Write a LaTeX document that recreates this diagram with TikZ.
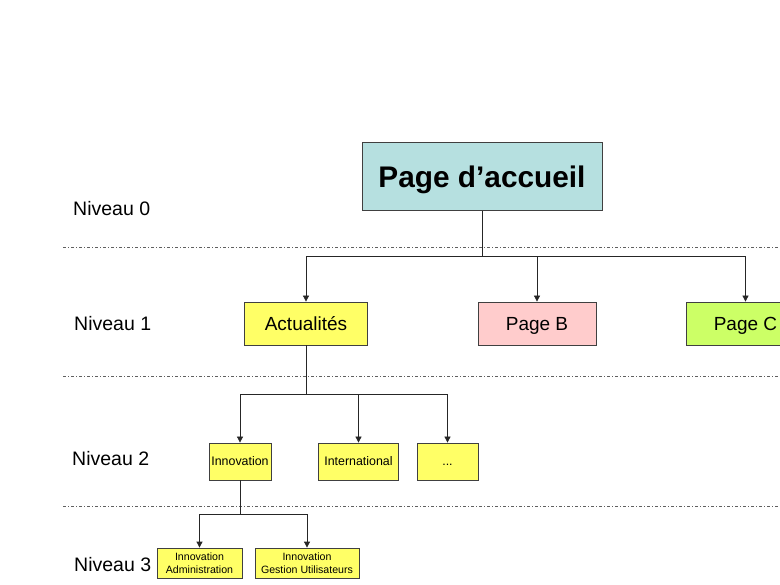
\documentclass[tikz,border=0pt]{standalone}
\usepackage{fontspec}
\setmainfont{Liberation Sans}
\usetikzlibrary{arrows.meta}
\definecolor{teal0}{HTML}{B6E0E0}
\definecolor{yel}{HTML}{FFFF66}
\definecolor{pinkb}{HTML}{FFCCCC}
\definecolor{greenc}{HTML}{CCFF66}
\definecolor{bord}{HTML}{404040}
\definecolor{sep}{HTML}{606060}
\tikzset{
  box/.style={draw=bord, line width=0.8pt, inner sep=0pt, anchor=center},
  lvlone/.style={box, text height=13.6pt, text depth=0pt, minimum width=123pt, minimum height=43pt, font=\fontsize{19}{22}\selectfont},
  lvltwo/.style={box, text height=8.9pt, text depth=0pt, fill=yel, minimum height=37pt, font=\fontsize{12.4}{14}\selectfont},
  lvlthree/.style={box, fill=yel, minimum height=30pt, align=center, font=\fontsize{10.6}{12.5}\selectfont},
  lvllabel/.style={font=\fontsize{19.5}{22}\selectfont, anchor=west, inner sep=0pt},
  conn/.style={draw=black!85, line width=0.8pt},
  arr/.style={conn, -{Triangle[length=6pt,width=6pt]}},
  sepline/.style={draw=sep, line width=0.7pt, dash pattern=on 3pt off 2pt on 1pt off 2pt}
}
\begin{document}
\begin{tikzpicture}[x=1pt,y=-1pt]
\useasboundingbox (0,0) rectangle (780,585);
\clip (0,0) rectangle (780,585);
\fill[white] (0,0) rectangle (780,585);

% separators
\draw[sepline] (63,247) -- (780,247);
\draw[sepline] (63,376) -- (780,376);
\draw[sepline] (63,506) -- (780,506);

% level labels
\node[lvllabel] (n0) at (73,209) {Niveau 0};
\node[lvllabel] (n1) at (74,324) {Niveau 1};
\node[lvllabel] (n2) at (72,459) {Niveau 2};
\node[lvllabel] (n3) at (74,565) {Niveau 3};

% level 0
\node[box, text height=21.3pt, text depth=0pt, fill=teal0, minimum width=240pt, minimum height=68pt,
      font=\fontsize{29.8}{34}\bfseries] (home) at (482,176.5) {Page d’accueil};

% level 1
\node[lvlone, fill=yel] (act) at (306,323.5) {Actualités};
\node[lvlone, fill=pinkb, minimum width=118pt] (pb) at (537,323.5) {Page B};
\node[lvlone, fill=greenc, minimum width=118pt] (pc) at (745.5,323.5) {Page C};

% level 2
\node[lvltwo, minimum width=62pt] (inno) at (240,461.5) {Innovation};
\node[lvltwo, minimum width=80pt] (intl) at (358.5,461.5) {International};
\node[lvltwo, minimum width=61pt] (etc) at (447.5,461.5) {...};

% level 3
\node[lvlthree, minimum width=85pt] (adm) at (199.5,563) {Innovation\\Administration};
\node[lvlthree, minimum width=104pt] (ges) at (307,563) {Innovation\\Gestion Utilisateurs};

% connectors level 0 -> 1
\coordinate (j0) at (482,256);
\draw[conn] (home.south) -- (j0);
\draw[arr] (j0) -| (act.north);
\draw[arr] (j0) -| (pb.north);
\draw[arr] (j0) -| (pc.north);

% connectors level 1 -> 2
\coordinate (j1) at (306,394);
\draw[conn] (act.south) -- (j1);
\draw[arr] (j1) -| (inno.north);
\draw[arr] (j1) -| (intl.north);
\draw[arr] (j1) -| (etc.north);

% connectors level 2 -> 3
\coordinate (j2) at (240,514);
\draw[conn] (inno.south) -- (j2);
\draw[arr] (j2) -| (adm.north);
\draw[arr] (j2) -| (ges.north);
\end{tikzpicture}
\end{document}
